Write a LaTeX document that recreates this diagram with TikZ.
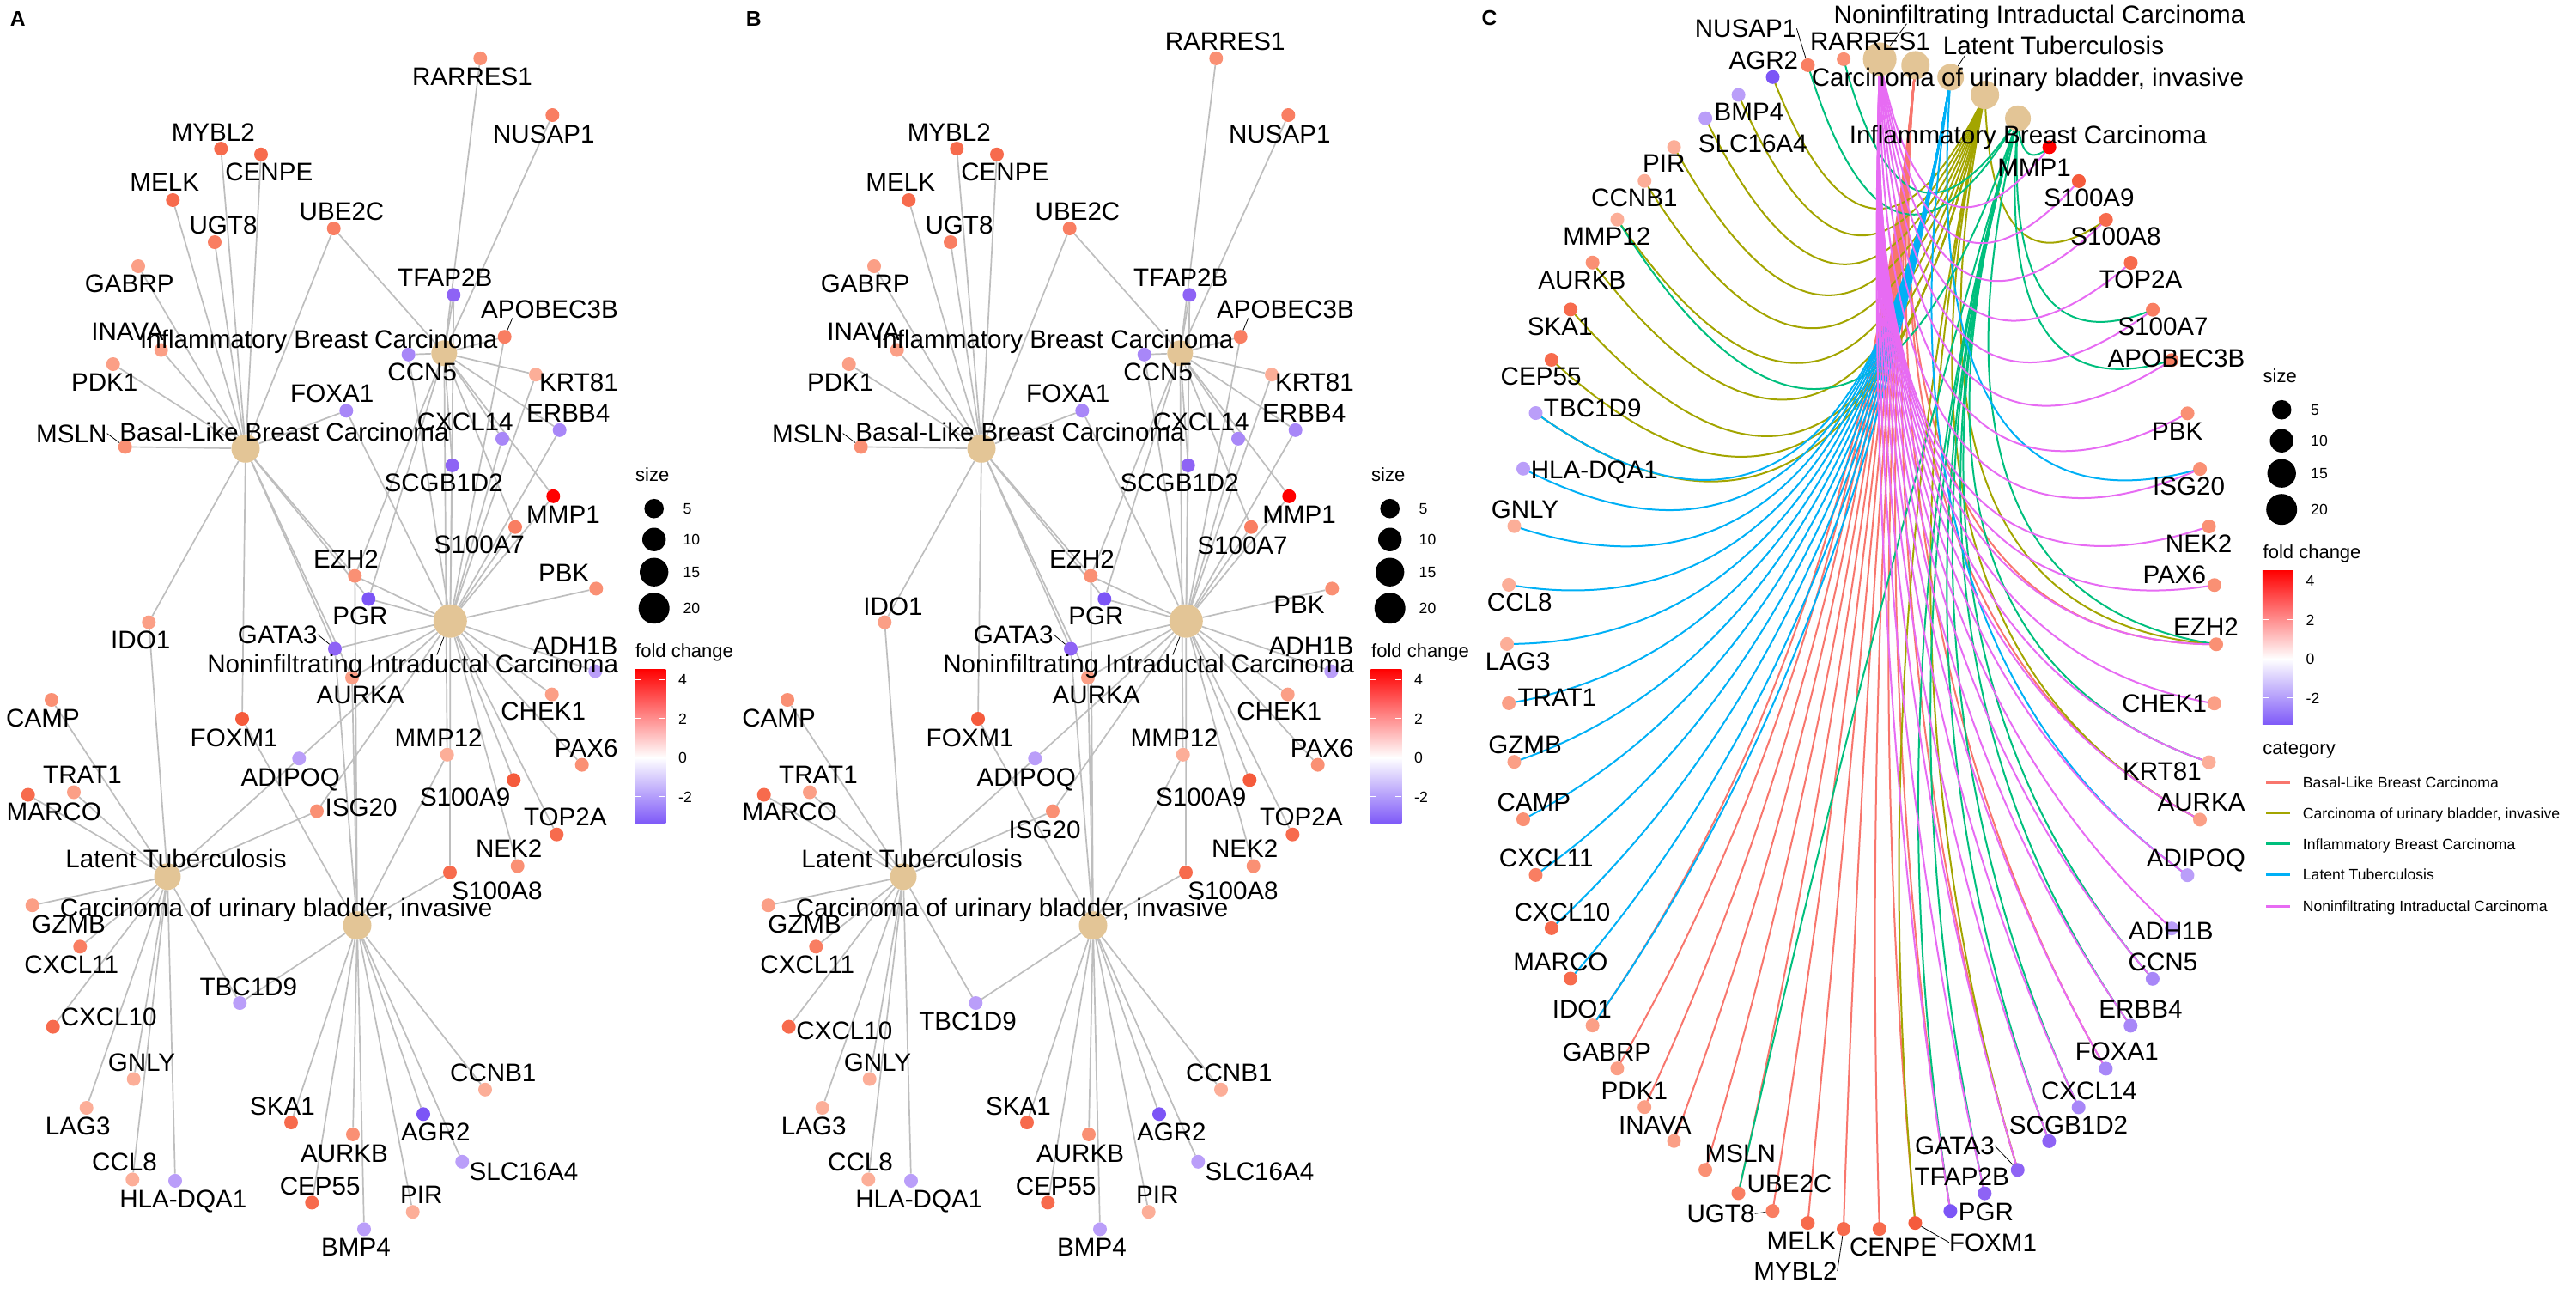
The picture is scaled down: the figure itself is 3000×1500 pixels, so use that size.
\documentclass[tikz,border=0pt]{standalone}
\usepackage{fontspec}
\setmainfont{Liberation Sans}
\usetikzlibrary{calc}
\usetikzlibrary{backgrounds}

\definecolor{edgegray}{HTML}{BEBEBE}
\definecolor{hubtan}{HTML}{E3C596}
\definecolor{fc1}{HTML}{FF0000}
\definecolor{fc2}{HTML}{F55B3C}
\definecolor{fc3}{HTML}{F76B4D}
\definecolor{fc4}{HTML}{F97E62}
\definecolor{fc5}{HTML}{FA9074}
\definecolor{fc6}{HTML}{FB9F86}
\definecolor{fc7}{HTML}{FCAE98}
\definecolor{pc1}{HTML}{7C55F6}
\definecolor{pc2}{HTML}{8E63F5}
\definecolor{pc3}{HTML}{A887F8}
\definecolor{pc4}{HTML}{BA9EF9}
\definecolor{barmid}{HTML}{F8987E}
\definecolor{barlow}{HTML}{7F5AF8}
\definecolor{colB}{HTML}{F8766D}
\definecolor{colU}{HTML}{A3A500}
\definecolor{colI}{HTML}{00BF7D}
\definecolor{colL}{HTML}{00B0F6}
\definecolor{colN}{HTML}{E76BF3}

\newcommand\labfont{\fontsize{29.6}{30}\selectfont}
\newcommand\ttlfont{\fontsize{22}{24}\selectfont}
\newcommand\keyfont{\fontsize{17.6}{19}\selectfont}
\newcommand\tagfont{\fontsize{24.7}{26}\selectfont\bfseries}

\tikzset{
  gene/.style={circle, inner sep=0pt, minimum size=16pt},
  hub/.style={circle, fill=hubtan, inner sep=0pt},
  glab/.style={font=\labfont, inner sep=0pt, text height=21.2pt, text depth=0pt},
  keylab/.style={font=\keyfont, inner sep=0pt, text height=12.6pt, text depth=0pt, anchor=west},
  ttl/.style={font=\ttlfont, inner sep=0pt, anchor=base west},
  aedge/.style={draw=edgegray, line width=1.7pt},
  cedge/.style={line width=2pt},
  leader/.style={draw=black, line width=0.8pt},
}

% id/text/x/y/colour/label A/label B (panel A frame)
\newcommand\genelist{%
MYBL2/MYBL2/257.3/173.1/fc3/248.3/154/248.3/154,
CENPE/CENPE/304/179.8/fc3/313.3/200/313.3/200,
MELK/MELK/201.3/233/fc3/191.7/212/191.7/212,
UGT8/UGT8/250/282/fc4/260/262/260/262,
UBE2C/UBE2C/388.7/266/fc4/398/246/398/246,
GABRP/GABRP/161/310/fc6/150.7/330/150.7/330,
INAVA/INAVA/187.7/407.5/fc6/148.5/385.5/148.5/385.5,
PDK1/PDK1/131.7/424/fc6/121.7/445/121.7/445,
MSLN/MSLN/145.7/520.4/fc5/83.3/504.6/83.3/504.6,
FOXA1/FOXA1/403.3/478.3/pc3/386.7/458/386.7/458,
EZH2/EZH2/413.3/670.6/fc5/403/650.5/403/650.5,
PGR/PGR/429.3/697.4/pc1/419.5/717/419.5/717,
IDO1/IDO1/173.3/724.6/fc6/163.7/745/183/705.5,
GATA3/GATA3/390/755.5/pc2/323.3/738.8/323.3/738.8,
RARRES1/RARRES1/559.3/67.9/fc5/550/88.5/569.7/47.8,
NUSAP1/NUSAP1/643.3/134/fc4/633.3/155.5/633.3/155.5,
TFAP2B/TFAP2B/528.3/343.4/pc2/518.3/322.9/518.3/322.9,
APOBEC3B/APOBEC3B/587.7/392.2/fc4/640/359.7/640/359.7,
CCN5/CCN5/475.7/412.8/pc3/491.7/432.9/491.7/432.9,
KRT81/KRT81/624/436.2/fc7/674/444.8/674/444.8,
ERBB4/ERBB4/651.7/500.8/pc3/661.7/480.7/661.7/480.7,
CXCL14/CXCL14/585/510.8/pc3/541.7/491.2/541.7/491.2,
SCGB1D2/SCGB1D2/526.7/541.9/pc2/516.7/562/516.7/562,
MMP1/MMP1/644.3/577.8/fc1/656/598.8/656/598.8,
S100A7/S100A7/600/613.7/fc4/558.3/633.8/590/635,
PBK/PBK/694.3/685.4/fc5/656.7/667.2/656/704,
CAMP/CAMP/60/815/fc5/50/835.6/50/835.6,
FOXM1/FOXM1/282/837/fc2/272.7/858.7/272.7/858.7,
ADIPOQ/ADIPOQ/348.3/883.2/pc4/338.3/904.4/338.3/904.4,
ISG20/ISG20/369/944.6/fc5/420.5/940.2/359.6/965.8,
TRAT1/TRAT1/86/922.5/fc6/96/902/96/902,
MARCO/MARCO/32.7/925.5/fc3/62.7/945/62.7/945,
GZMB/GZMB/37.7/1054.2/fc6/80/1076.3/80/1076.3,
CXCL11/CXCL11/93.3/1102.3/fc4/83.3/1123/83.3/1123,
TBC1D9/TBC1D9/279.3/1168/pc4/289.3/1148.5/270/1189.2,
CXCL10/CXCL10/61.7/1195.6/fc3/126.7/1184.3/126.4/1200,
GNLY/GNLY/155.7/1256.5/fc7/165/1236.9/165/1236.9,
LAG3/LAG3/100.7/1290/fc7/90.7/1311/90.7/1311,
CCL8/CCL8/154.3/1373.4/fc7/145/1352.8/145/1352.8,
HLADQA1/HLA-DQA1/204/1374.9/pc4/213.3/1395.5/213.3/1395.5,
SKA1/SKA1/339/1307/fc3/329/1287.5/329/1287.5,
AURKB/AURKB/411/1320.9/fc5/401/1343/401/1343,
CEP55/CEP55/363.3/1400.4/fc3/372.7/1380.8/372.7/1380.8,
BMP4/BMP4/424/1431.4/pc4/414.5/1452/414.5/1452,
AURKA/AURKA/410/789/fc6/419.7/808.6/419.7/808.6,
ADH1B/ADH1B/693.3/781.6/pc4/670/752/670/752,
CHEK1/CHEK1/642.7/808.6/fc6/632.7/828.2/632.7/828.2,
MMP12/MMP12/520.7/878.8/fc7/510.7/858.7/510.7/858.7,
PAX6/PAX6/677.7/890.6/fc5/682.7/871/682.7/871,
S100A9/S100A9/598.3/908.3/fc2/541.7/927.9/541.7/927.9,
TOP2A/TOP2A/648.3/971.7/fc3/658.3/951/658.3/951,
NEK2/NEK2/602.7/1008.5/fc5/592.7/987.9/592.7/987.9,
S100A8/S100A8/524/1015.9/fc3/579/1037/579/1037,
CCNB1/CCNB1/565/1268.8/fc7/574.3/1249.1/574.3/1249.1,
AGR2/AGR2/493/1297.3/pc1/507.3/1317.9/507.3/1317.9,
SLC16A4/SLC16A4/538.3/1352.8/pc4/610/1363.6/610/1363.6,
PIR/PIR/480.7/1411.2/fc7/490.7/1390.6/490.7/1390.6}

% gene/category
\newcommand\edgelist{%
MYBL2/B, CENPE/B, MELK/B, UGT8/B, UBE2C/B, GABRP/B, INAVA/B, PDK1/B, MSLN/B, FOXA1/B, EZH2/B, PGR/B, IDO1/B, GATA3/B, FOXM1/B, AURKA/B,
FOXM1/U, TBC1D9/U, SKA1/U, AURKB/U, CEP55/U, BMP4/U, PIR/U, AGR2/U, SLC16A4/U, CCNB1/U, S100A8/U, MMP12/U, EZH2/U, AURKA/U, GATA3/U,
UBE2C/I, RARRES1/I, NUSAP1/I, TFAP2B/I, APOBEC3B/I, CCN5/I, KRT81/I, ERBB4/I, CXCL14/I, SCGB1D2/I, MMP1/I, S100A7/I, MMP12/I, EZH2/I, PGR/I,
CAMP/L, TRAT1/L, MARCO/L, GZMB/L, CXCL11/L, CXCL10/L, GNLY/L, LAG3/L, CCL8/L, HLADQA1/L, IDO1/L, TBC1D9/L, ADIPOQ/L, ISG20/L,
FOXA1/N, EZH2/N, PGR/N, GATA3/N, AURKA/N, ADIPOQ/N, ISG20/N, TFAP2B/N, APOBEC3B/N, CCN5/N, KRT81/N, ERBB4/N, CXCL14/N, SCGB1D2/N, MMP1/N, S100A7/N, S100A8/N, ADH1B/N, CHEK1/N, PAX6/N, S100A9/N, TOP2A/N, NEK2/N, PBK/N}

% circular panel: id/text/colour/label position, in order round the circle
\newcommand\clist{%
RARRES1/RARRES1/fc5/2178/48.3,
NUSAP1/NUSAP1/fc4/2033/33.3,
AGR2/AGR2/pc1/2053.8/70,
BMP4/BMP4/pc4/2037/130,
SLC16A4/SLC16A4/pc4/2041.3/166.7,
PIR/PIR/fc7/1937.7/190,
CCNB1/CCNB1/fc7/1903.3/230,
MMP12/MMP12/fc7/1871.3/275,
AURKB/AURKB/fc5/1842.3/326,
SKA1/SKA1/fc3/1816.6/380,
CEP55/CEP55/fc3/1794.6/438.3,
TBC1D9/TBC1D9/pc4/1854.7/475,
HLADQA1/HLA-DQA1/pc4/1856.8/546.7,
GNLY/GNLY/fc7/1776/592.7,
CCL8/CCL8/fc7/1769.8/701,
LAG3/LAG3/fc7/1767.7/770,
TRAT1/TRAT1/fc6/1813.3/811.7,
GZMB/GZMB/fc6/1776/867.3,
CAMP/CAMP/fc5/1786.3/934,
CXCL11/CXCL11/fc4/1800.8/999.3,
CXCL10/CXCL10/fc3/1819.5/1061.7,
MARCO/MARCO/fc3/1817.4/1120,
IDO1/IDO1/fc6/1842.3/1175,
GABRP/GABRP/fc6/1871.3/1225,
PDK1/PDK1/fc6/1903.3/1270,
INAVA/INAVA/fc6/1927.3/1310,
MSLN/MSLN/fc5/2026.8/1343.3,
UBE2C/UBE2C/fc4/2084/1378.3,
UGT8/UGT8/fc4/2004/1413.3,
MELK/MELK/fc3/2098/1445,
MYBL2/MYBL2/fc3/2091/1480,
CENPE/CENPE/fc3/2205/1451.7,
FOXM1/FOXM1/fc2/2321/1446.7,
PGR/PGR/pc1/2312.9/1410.7,
TFAP2B/TFAP2B/pc2/2284.7/1370,
GATA3/GATA3/pc2/2276.4/1334,
SCGB1D2/SCGB1D2/pc2/2409/1310,
CXCL14/CXCL14/pc3/2433/1270,
FOXA1/FOXA1/pc3/2465.3/1224.3,
ERBB4/ERBB4/pc3/2493/1175,
CCN5/CCN5/pc3/2519/1120,
ADH1B/ADH1B/pc4/2528.3/1084,
ADIPOQ/ADIPOQ/pc4/2557.3/999.3,
AURKA/AURKA/fc6/2563.5/934.3,
KRT81/KRT81/fc7/2518/898.3,
CHEK1/CHEK1/fc6/2520.8/819.3,
EZH2/EZH2/fc5/2569/730,
PAX6/PAX6/fc5/2532.4/669.3,
NEK2/NEK2/fc5/2560.6/633.3,
ISG20/ISG20/fc5/2549/566,
PBK/PBK/fc5/2535.7/501.7,
APOBEC3B/APOBEC3B/fc4/2534.5/416.7,
S100A7/S100A7/fc4/2519/380,
TOP2A/TOP2A/fc3/2493/325,
S100A8/S100A8/fc3/2464/275,
S100A9/S100A9/fc2/2433/230,
MMP1/MMP1/fc1/2369/195}

\begin{document}
\begin{tikzpicture}[x=1pt,y=-1pt]
\useasboundingbox (0,0) rectangle (3000,1500);
\begin{pgfonlayer}{background}
  \fill[white] (0,0) rectangle (3000,1500);
\end{pgfonlayer}

% panels A and B: same network
\foreach \p/\dx in {a/0,b/857}{
  \begin{scope}[xshift=\dx pt]
    \foreach \id/\txt/\x/\y/\col/\lax/\lay/\lbx/\lby in \genelist
      \node[gene, fill=\col] (\p\id) at (\x,\y) {};
    \foreach \h/\x/\y/\dm in {B/286/522.3/33, I/517.3/411.3/30, N/524.3/723.2/39, L/195/1020.8/31, U/416/1077.7/33}
      \node[hub, minimum size=\dm pt] (\p\h) at (\x,\y) {};
  \end{scope}
}
\begin{pgfonlayer}{background}
  \foreach \p in {a,b}
    \foreach \g/\h in \edgelist
      \draw[aedge] (\p\g) -- (\p\h);
\end{pgfonlayer}

\foreach \id/\txt/\x/\y/\col/\lax/\lay/\lbx/\lby in \genelist {
  \node[glab] (la\id) at (\lax,\lay) {\txt};
  \node[glab] (lb\id) at (\lbx+857,\lby) {\txt};
}
\foreach \h/\txt/\x/\y in {B/Basal-Like Breast Carcinoma/331/503, I/Inflammatory Breast Carcinoma/371.3/394.6, N/Noninfiltrating Intraductal Carcinoma/480.7/773.2, L/Latent Tuberculosis/205/1000, U/{Carcinoma of urinary bladder, invasive}/321.7/1056.6} {
  \node[glab] (la\h) at (\x,\y) {\txt};
  \node[glab] (lb\h) at (\x+857,\y) {\txt};
}
\foreach \p in {a,b} {
  \draw[leader] (l\p MSLN.east) -- (\p MSLN);
  \draw[leader] (l\p GATA3.east) -- (\p GATA3);
  \draw[leader] (l\p APOBEC3B.-166) -- (\p APOBEC3B);
  \draw[leader] (l\p N.21) -- (\p N);
}

% panel C: circular layout
\foreach \id/\txt/\col/\lx/\ly [count=\idx] in \clist {
  \pgfmathsetmacro\cAng{92.903+(\idx-1)*5.806}
  \expandafter\xdef\csname ang\id\endcsname{\cAng}
  \node[gene, fill=\col] (c\id) at ({2168+413*cos(\cAng)},{750-682*sin(\cAng)}) {};
}
\foreach \h/\idx/\dm in {I/58/30, U/59/33, L/60/31, B/61/33, N/62/39} {
  \pgfmathsetmacro\cAng{92.903+(\idx-1)*5.806}
  \expandafter\xdef\csname ang\h\endcsname{\cAng}
  \node[hub, minimum size=\dm pt] (c\h) at ({2168+413*cos(\cAng)},{750-682*sin(\cAng)}) {};
}
\begin{pgfonlayer}{background}
  \foreach \g/\h in \edgelist {
    \pgfmathsetmacro\cDiff{\csname ang\h\endcsname-\csname ang\g\endcsname}
    \pgfmathsetmacro\cMin{min(\cDiff,360-\cDiff)}
    \pgfmathsetmacro\cMid{\cDiff<=180 ? \csname ang\g\endcsname+\cDiff/2 : \csname ang\g\endcsname+\cDiff/2-180}
    \pgfmathsetmacro\cRad{max(0,1-2.4*\cMin/180)}
    \coordinate (ctl) at ({2168+413*\cRad*cos(\cMid)},{750-682*\cRad*sin(\cMid)});
    \draw[cedge, draw=col\h] (c\g.center) .. controls ($(c\g.center)!0.6667!(ctl)$) and ($(c\h.center)!0.6667!(ctl)$) .. (c\h.center);
  }
\end{pgfonlayer}
\foreach \id/\txt/\col/\lx/\ly in \clist
  \node[glab] (lc\id) at (\lx,\ly) {\txt};
\node[glab] (lcN) at (2375,17) {Noninfiltrating Intraductal Carcinoma};
\node[glab] (lcL) at (2391.5,53.3) {Latent Tuberculosis};
\node[glab] (lcU) at (2361.5,90) {Carcinoma of urinary bladder, invasive};
\node[glab] (lcI) at (2362,156.7) {Inflammatory Breast Carcinoma};
\draw[leader] (lcNUSAP1.east) -- (cNUSAP1);
\draw[leader] (lcMYBL2.east) -- (cMYBL2);
\draw[leader] (lcFOXM1.west) -- (cFOXM1);
\draw[leader] (lcGATA3.east) -- (cGATA3);
\draw[leader] (lcUGT8.east) -- (cUGT8);
\draw[leader] (lcN.-176) -- (cN);
\draw[leader] (lcL.-174) -- (cL);

% panel tags
\node[font=\tagfont, inner sep=0pt] (tagA) at (20.7,21.5) {A};
\node[font=\tagfont, inner sep=0pt] (tagB) at (877.7,21.5) {B};
\node[font=\tagfont, inner sep=0pt] (tagC) at (1734.5,20.7) {C};

% legends
\foreach \lx/\ly/\q in {0/0/a, 857/0/b, 1895.5/-115/c} {
  \begin{scope}[shift={(\lx,\ly)}]
    \node[ttl] (sz\q) at (740,560.5) {size};
    \foreach \val/\yy/\dm in {5/592.2/22.6, 10/628.2/27.4, 15/666.2/33.3, 20/708.2/36} {
      \node[circle, fill=black, inner sep=0pt, minimum size=\dm pt] (dot\q\val) at (761.7,\yy) {};
      \node[keylab] (dl\q\val) at (795.5,\yy) {\val};
    }
    \node[ttl] (fc\q) at (740,765.2) {fold change};
    \shade[top color=fc1, middle color=barmid, bottom color=white] (739.3,779) rectangle (775.3,882.3);
    \shade[top color=white, bottom color=barlow] (739.3,882.3) rectangle (775.3,958.4);
    \foreach \val [count=\idx] in {4,2,0,-2} {
      \draw[white, line width=1pt] (739.3,882.3-22.7*\val) -- ++(7,0) (775.3,882.3-22.7*\val) -- ++(-7,0);
      \node[keylab] (tk\q\idx) at (790,882.3-22.7*\val) {\val};
    }
  \end{scope}
}
\node[ttl] (catC) at (2635.2,878.3) {category};
\foreach \h/\txt/\yy in {B/Basal-Like Breast Carcinoma/911, U/{Carcinoma of urinary bladder, invasive}/946.7, I/Inflammatory Breast Carcinoma/982.7, L/Latent Tuberculosis/1018.3, N/Noninfiltrating Intraductal Carcinoma/1055} {
  \coordinate (ks\h) at (2639,\yy);
  \coordinate (ke\h) at (2667,\yy);
  \draw[col\h, line width=3pt] (ks\h) -- (ke\h);
  \node[keylab] (kl\h) at (2681.7,\yy) {\txt};
}
\end{tikzpicture}
\end{document}
